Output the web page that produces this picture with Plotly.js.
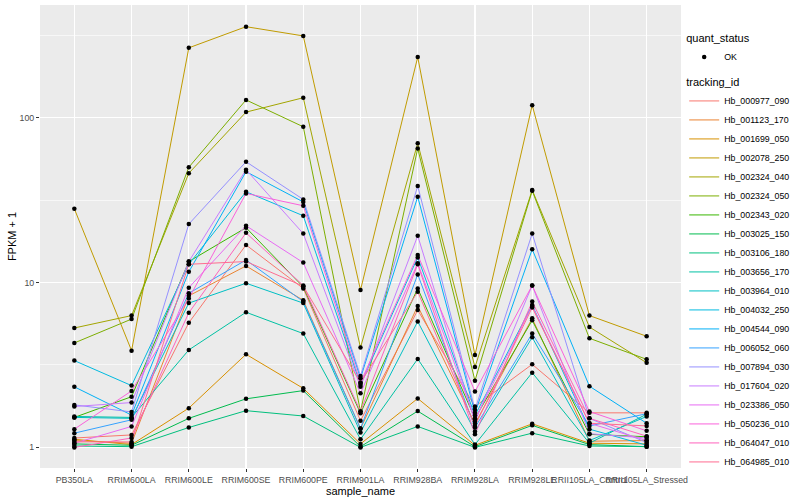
<!DOCTYPE html>
<html>
<head>
<meta charset="utf-8">
<script src="https://cdn.plot.ly/plotly-3.0.1.min.js"></script>
<style>
  html, body { margin: 0; padding: 0; background: #ffffff; }
  #chart { width: 800px; height: 500px; }
</style>
</head>
<body>
<div id="chart"></div>
<script>
// ---- data ----
const samples = ["PB350LA", "RRIM600LA", "RRIM600LE", "RRIM600SE", "RRIM600PE", "RRIM901LA",
                 "RRIM928BA", "RRIM928LA", "RRIM928LE", "RRII105LA_Control", "RRII105LA_Stressed"];

const trackingIds = ["Hb_000977_090", "Hb_001123_170", "Hb_001699_050", "Hb_002078_250", "Hb_002324_040",
                     "Hb_002324_050", "Hb_002343_020", "Hb_003025_150", "Hb_003106_180", "Hb_003656_170",
                     "Hb_003964_010", "Hb_004032_250", "Hb_004544_090", "Hb_006052_060", "Hb_007894_030",
                     "Hb_017604_020", "Hb_023386_050", "Hb_050236_010", "Hb_064047_010", "Hb_064985_010"];

// FPKM + 1 per sample (same order as samples)
const hb_000977_090 = [1.14, 1.19, 5.7, 16.9, 9.2, 1.45, 6.8, 1.77, 3.19, 1.62, 1.62];
const hb_001123_170 = [1.10, 1.06, 8.3, 12.6, 7.8, 1.30, 7.2, 1.39, 6.06, 1.09, 1.10];
const hb_001699_050 = [1.12, 1.04, 1.73, 3.67, 2.28, 1.05, 1.98, 1.03, 1.39, 1.06, 1.05];
const hb_002078_250 = [28, 3.86, 265, 356, 313, 9.0, 233, 3.63, 119, 6.3, 4.72];
const hb_002324_040 = [5.3, 6.3, 46, 108, 132, 4.03, 70, 3.07, 36.4, 5.37, 3.26];
const hb_002324_050 = [4.3, 6.0, 50, 128, 88, 1.65, 65, 2.54, 36, 4.59, 3.42];
const hb_002343_020 = [1.52, 2.03, 13.4, 21.5, 9.4, 1.61, 9.2, 1.5, 5.9, 1.2, 1.16];
const hb_003025_150 = [1.05, 1.03, 1.50, 1.97, 2.21, 1.01, 1.66, 1.01, 1.36, 1.04, 1.01];
const hb_003106_180 = [1.02, 1.01, 1.32, 1.67, 1.55, 1.00, 1.34, 1.00, 1.22, 1.02, 1.01];
const hb_003656_170 = [1.54, 1.52, 3.9, 6.6, 4.9, 1.12, 3.44, 1.04, 2.84, 1.06, 1.59];
const hb_003964_010 = [1.52, 1.50, 7.5, 9.9, 7.5, 1.23, 5.8, 1.25, 4.65, 1.10, 1.54];
const hb_004032_250 = [3.36, 2.37, 12.9, 35.5, 25.4, 2.40, 14.2, 1.56, 7.3, 1.29, 1.03];
const hb_004544_090 = [2.33, 1.57, 11.6, 47, 30.8, 2.63, 33.1, 1.62, 15.9, 2.35, 1.40];
const hb_006052_060 = [1.22, 1.47, 8.6, 13.7, 7.66, 1.30, 11.2, 1.32, 4.9, 1.35, 1.60];
const hb_007894_030 = [1.81, 1.64, 22.6, 54, 31.9, 2.71, 38.5, 1.69, 19.8, 1.50, 1.07];
const hb_017604_020 = [1.77, 1.87, 13.4, 48.3, 19.8, 2.33, 19.2, 1.43, 9.6, 1.21, 1.14];
const hb_023386_050 = [1.06, 1.34, 9.3, 22.1, 13.2, 2.13, 13.1, 1.48, 7.2, 1.40, 1.10];
const hb_050236_010 = [1.29, 2.20, 8.0, 34.7, 29.2, 2.47, 14.7, 2.18, 9.6, 1.65, 1.26];
const hb_064047_010 = [1.00, 1.14, 6.55, 20, 9.6, 1.65, 12.9, 1.20, 7.66, 1.50, 1.17];
const hb_064985_010 = [1.08, 1.08, 12.9, 13.4, 9.5, 2.47, 8.8, 1.35, 7.05, 1.40, 1.35];

const seriesValues = [hb_000977_090, hb_001123_170, hb_001699_050, hb_002078_250, hb_002324_040,
                      hb_002324_050, hb_002343_020, hb_003025_150, hb_003106_180, hb_003656_170,
                      hb_003964_010, hb_004032_250, hb_004544_090, hb_006052_060, hb_007894_030,
                      hb_017604_020, hb_023386_050, hb_050236_010, hb_064047_010, hb_064985_010];

const quantStatus = "OK";
const yTickVals = [1, 10, 100];
const yTickText = ["1", "10", "100"];

// ---- styles ----
const colors = ["#F8766D", "#EA8331", "#D89000", "#C09B00", "#A3A500", "#7CAE00", "#39B600", "#00BB4E",
                "#00BF7D", "#00C1A3", "#00BFC4", "#00BAE0", "#00B0F6", "#35A2FF", "#9590FF", "#C77CFF",
                "#E76BF3", "#FA62DB", "#FF62BC", "#FF6C91"];

const traces = [];
trackingIds.forEach((id, i) => {
  traces.push({
    type: "scatter", mode: "lines", name: id,
    x: samples, y: seriesValues[i],
    line: { color: colors[i], width: 1 },
    legend: "legend", hoverinfo: "skip"
  });
});

// all points, one marker trace (quant_status = OK)
const allX = [], allY = [];
seriesValues.forEach(vals => vals.forEach((v, j) => { allX.push(samples[j]); allY.push(v); }));
traces.push({
  type: "scatter", mode: "markers", name: quantStatus,
  x: allX, y: allY,
  marker: { color: "#000000", size: 4.5, symbol: "circle" },
  legend: "legend2"
});

const layout = {
  width: 800, height: 500,
  margin: { l: 40, r: 116, t: 5, b: 32 },
  paper_bgcolor: "#FFFFFF",
  plot_bgcolor: "#EBEBEB",
  font: { family: "Liberation Sans, Arial, sans-serif", color: "#000000" },
  xaxis: {
    type: "category", range: [-0.6, 10.6],
    tickangle: 0, ticks: "outside", ticklen: 3, tickcolor: "#333333", tickwidth: 1,
    tickfont: { size: 8.8, color: "#4D4D4D" },
    showgrid: true, gridcolor: "#FFFFFF", gridwidth: 1.3,
    zeroline: false, showline: false, automargin: false,
    title: { text: "sample_name", font: { size: 11, color: "#000000" }, standoff: 1 }
  },
  yaxis: {
    type: "log", range: [-0.125, 2.683],
    tickmode: "array", tickvals: yTickVals, ticktext: yTickText,
    ticks: "outside", ticklen: 3, tickcolor: "#333333", tickwidth: 1,
    tickfont: { size: 8.8, color: "#4D4D4D" },
    showgrid: true, gridcolor: "#FFFFFF", gridwidth: 1.3,
    minor: { tickmode: "array", tickvals: [Math.sqrt(10), Math.sqrt(1000), Math.sqrt(100000)],
             showgrid: true, gridcolor: "#FFFFFF", gridwidth: 0.6, ticks: "" },
    zeroline: false, showline: false, automargin: false,
    title: { text: "FPKM + 1", font: { size: 11, color: "#000000" }, standoff: 0 }
  },
  legend: {
    title: { text: "tracking_id", font: { size: 11 } },
    font: { size: 8.8, color: "#000000" },
    x: 1.005, xanchor: "left", y: 0.855, yanchor: "top",
    bgcolor: "rgba(0,0,0,0)", borderwidth: 0, traceorder: "normal"
  },
  legend2: {
    title: { text: "quant_status", font: { size: 11 } },
    font: { size: 8.8, color: "#000000" },
    x: 1.005, xanchor: "left", y: 0.95, yanchor: "top",
    bgcolor: "rgba(0,0,0,0)", borderwidth: 0
  },
  showlegend: true
};

Plotly.newPlot("chart", traces, layout, { displayModeBar: false, staticPlot: true });
</script>
</body>
</html>
